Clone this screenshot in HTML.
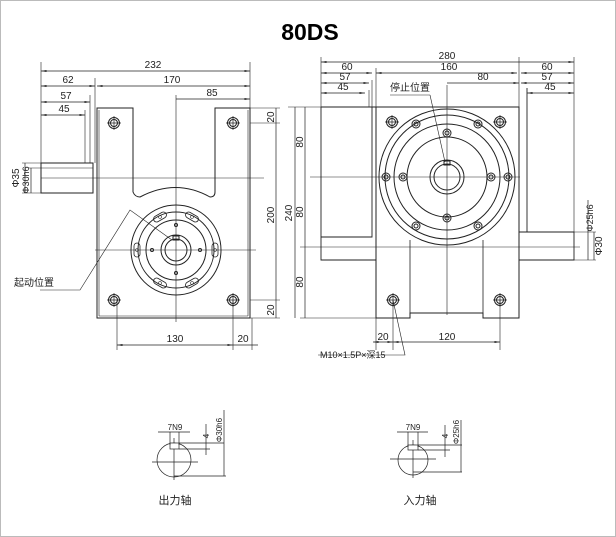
<!DOCTYPE html>
<html><head><meta charset="utf-8"><style>
body{margin:0;background:#fff}
svg{display:block}
text{font-family:"Liberation Sans","Noto Sans CJK SC",sans-serif;font-size:10px;fill:#222}
</style></head><body>
<svg width="616" height="537" viewBox="0 0 616 537" xmlns="http://www.w3.org/2000/svg">
<rect x="0.5" y="0.5" width="615" height="536" fill="#fff" stroke="#bbb"/>
<text x="310" y="40" text-anchor="middle" style="font-size:23px;font-weight:bold;fill:#000">80DS</text>
<defs>
<marker id="a" viewBox="0 0 8 6" refX="8" refY="3" markerWidth="8" markerHeight="6" orient="auto-start-reverse"><path d="M0 1.5L8 3L0 4.5z" fill="#222"/></marker>
<g id="hole"><circle r="5.5" fill="none" stroke="#222"/><circle r="3.5" fill="none" stroke="#222"/><path d="M-7 0H7M0 -7V7" stroke="#222" stroke-width="0.7"/></g>
<g id="sh"><circle r="4" fill="none" stroke="#222"/><circle r="2" fill="none" stroke="#222"/></g>
<g id="slot"><rect x="-7" y="-3" width="14" height="6" rx="3" fill="none" stroke="#222" stroke-width="0.8"/><circle r="1.5" fill="none" stroke="#222" stroke-width="0.6"/></g>
</defs>
<g fill="none" stroke="#222" stroke-width="1">
<!-- LEFT VIEW -->
<path d="M97 318V108H133V112V192Q135 197 140 197Q176 178 210 197Q215 197 215 192V112V108H250V318Z"/>
<path d="M99 316V110M248 110V316M99 316H248" stroke-width="0.6"/>
<rect x="41" y="163" width="52" height="30"/>
<path d="M41 168H93" stroke-width="0.6"/>
<circle cx="176" cy="250" r="45"/><circle cx="176" cy="250" r="38"/><circle cx="176" cy="250" r="30"/>
<circle cx="176" cy="250" r="15"/><circle cx="176" cy="250" r="11"/>
<rect x="173" y="236" width="6" height="4"/>
<use href="#slot" transform="translate(160,217) rotate(-30)"/>
<use href="#slot" transform="translate(192,217) rotate(30)"/>
<use href="#slot" transform="translate(160,283) rotate(30)"/>
<use href="#slot" transform="translate(192,283) rotate(-30)"/>
<use href="#slot" transform="translate(137,250) rotate(90)"/>
<use href="#slot" transform="translate(215,250) rotate(90)"/>
<use href="#hole" x="114" y="123"/><use href="#hole" x="233" y="123"/><use href="#hole" x="114" y="300"/><use href="#hole" x="233" y="300"/>
<circle cx="176" cy="225" r="1.5"/><circle cx="176" cy="273" r="1.5"/><circle cx="152" cy="250" r="1.5"/><circle cx="200" cy="250" r="1.5"/>
<g stroke-width="0.6">
<path d="M176 95V322M95 250H256M41 178H264"/>
<path d="M41 62V193M95 78V163M90 95V163M85 110V163M250 62V108M252 318V350M117 300V350M233 300V350"/>
<path d="M250 108H280M250 123H280M250 300H280M250 318H280"/>
<path d="M22 163H41M28 168H41M22 193H41"/>
<path d="M172 240L130 210L80 290H40"/>
</g>
<g stroke-width="0.7">
<path d="M41 71H250" marker-start="url(#a)" marker-end="url(#a)"/>
<path d="M41 86H95" marker-start="url(#a)" marker-end="url(#a)"/>
<path d="M97 86H250" marker-start="url(#a)" marker-end="url(#a)"/>
<path d="M41 102H90" marker-start="url(#a)" marker-end="url(#a)"/>
<path d="M176 99H250" marker-end="url(#a)"/>
<path d="M41 115H85" marker-start="url(#a)" marker-end="url(#a)"/>
<path d="M276 108V318"/>
<path d="M117 345H233" marker-start="url(#a)" marker-end="url(#a)"/>
<path d="M233 345H258"/>
<path d="M25 163V193M31 168V193"/>
</g>
<!-- RIGHT VIEW -->
<path d="M376 107H519V318H483V313H410V318H376Z"/>
<path d="M410 240V313M483 240V313" stroke-width="0.8"/>
<path d="M321 107H376M321 107V260H376M321 237H372V107" stroke-width="0.9"/>
<path d="M519 232H574V260H519M527 88V232" stroke-width="0.9"/>
<circle cx="447" cy="177" r="68"/><circle cx="447" cy="177" r="62"/><circle cx="447" cy="177" r="53"/>
<circle cx="447" cy="177" r="40"/><circle cx="447" cy="177" r="17"/><circle cx="447" cy="177" r="13"/>
<rect x="444" y="161" width="6" height="4"/>
<use href="#hole" x="392" y="122"/><use href="#hole" x="500" y="122"/><use href="#hole" x="393" y="300"/><use href="#hole" x="500" y="300"/>
<use href="#sh" x="386" y="177"/><use href="#sh" x="508" y="177"/><use href="#sh" x="416" y="124"/><use href="#sh" x="478" y="124"/><use href="#sh" x="416" y="226"/><use href="#sh" x="478" y="226"/>
<use href="#sh" x="447" y="133"/><use href="#sh" x="447" y="218"/><use href="#sh" x="403" y="177"/><use href="#sh" x="491" y="177"/>
<g stroke-width="0.6">
<path d="M447 85V315M310 177H520M300 247H580"/>
<path d="M321 57V107M376 68V107M519 57V107M574 57V232M372 80V107M369 90V107"/>
<path d="M288 107H321M300 318H376M393 300V350M500 300V350M376 318V350"/>
<path d="M574 232H596M574 260H596"/>
<path d="M430 95L445 162M390 95H430"/>
<path d="M393 300L405 355H318"/>
</g>
<g stroke-width="0.7">
<path d="M321 62H574" marker-start="url(#a)" marker-end="url(#a)"/>
<path d="M321 73H372" marker-start="url(#a)" marker-end="url(#a)"/>
<path d="M376 73H517" marker-start="url(#a)" marker-end="url(#a)"/>
<path d="M521 73H574" marker-start="url(#a)" marker-end="url(#a)"/>
<path d="M321 83H369" marker-start="url(#a)" marker-end="url(#a)"/>
<path d="M521 83H574" marker-start="url(#a)" marker-end="url(#a)"/>
<path d="M321 93H365" marker-start="url(#a)" marker-end="url(#a)"/>
<path d="M527 93H574" marker-start="url(#a)" marker-end="url(#a)"/>
<path d="M447 83H519" marker-end="url(#a)"/>
<path d="M295 107V318"/>
<path d="M305 107V318"/>
<path d="M373 342H393" marker-start="url(#a)" marker-end="url(#a)"/>
<path d="M393 342H500" marker-start="url(#a)" marker-end="url(#a)"/>
<path d="M588 200V260M594 232V260"/>
</g>
<!-- small sections -->
<g stroke-width="0.7">
<circle cx="174" cy="460" r="17"/>
<path d="M152 462H198M174 438V480"/>
<rect x="170" y="443" width="9" height="6" fill="#fff"/>
<path d="M170 445V432M179 445V432M158 432H190M179 443H224M179 449H210M174 476H226M206 424V455M224 410V476"/>
<circle cx="413" cy="460" r="15"/>
<path d="M390 459H436M413 440V478"/>
<rect x="408" y="445" width="10" height="5" fill="#fff"/>
<path d="M408 447V432M418 447V432M397 432H428M418 445H462M418 450H450M413 472H462M445 425V457M461 420V472"/>
</g>
</g>
<g>
<text x="153" y="68" text-anchor="middle">232</text>
<text x="68" y="83" text-anchor="middle">62</text>
<text x="172" y="83" text-anchor="middle">170</text>
<text x="66" y="99" text-anchor="middle">57</text>
<text x="212" y="96" text-anchor="middle">85</text>
<text x="64" y="112" text-anchor="middle">45</text>
<text transform="translate(274,117) rotate(-90)" text-anchor="middle">20</text>
<text transform="translate(274,215) rotate(-90)" text-anchor="middle">200</text>
<text transform="translate(274,310) rotate(-90)" text-anchor="middle">20</text>
<text transform="translate(19,178) rotate(-90)" text-anchor="middle">Φ35</text>
<text transform="translate(29,180) rotate(-90)" text-anchor="middle" style="font-size:9px">Φ30h6</text>
<text x="175" y="342" text-anchor="middle">130</text>
<text x="243" y="342" text-anchor="middle">20</text>
<text x="14" y="286">起动位置</text>
<text x="447" y="59" text-anchor="middle">280</text>
<text x="347" y="70" text-anchor="middle">60</text>
<text x="449" y="70" text-anchor="middle">160</text>
<text x="547" y="70" text-anchor="middle">60</text>
<text x="345" y="80" text-anchor="middle">57</text>
<text x="547" y="80" text-anchor="middle">57</text>
<text x="343" y="90" text-anchor="middle">45</text>
<text x="550" y="90" text-anchor="middle">45</text>
<text x="483" y="80" text-anchor="middle">80</text>
<text x="390" y="91">停止位置</text>
<text transform="translate(292,213) rotate(-90)" text-anchor="middle">240</text>
<text transform="translate(303,142) rotate(-90)" text-anchor="middle">80</text>
<text transform="translate(303,212) rotate(-90)" text-anchor="middle">80</text>
<text transform="translate(303,282) rotate(-90)" text-anchor="middle">80</text>
<text transform="translate(593,218) rotate(-90)" text-anchor="middle" style="font-size:9px">Φ25h6</text>
<text transform="translate(602,246) rotate(-90)" text-anchor="middle">Φ30</text>
<text x="383" y="340" text-anchor="middle">20</text>
<text x="447" y="340" text-anchor="middle">120</text>
<text x="320" y="358" style="font-size:9px">M10×1.5P×深15</text>
<text x="175" y="430" text-anchor="middle" style="font-size:8px">7N9</text>
<text transform="translate(209,436) rotate(-90)" text-anchor="middle" style="font-size:8px">4</text>
<text transform="translate(222,430) rotate(-90)" text-anchor="middle" style="font-size:8px">Φ30h6</text>
<text x="413" y="430" text-anchor="middle" style="font-size:8px">7N9</text>
<text transform="translate(448,436) rotate(-90)" text-anchor="middle" style="font-size:8px">4</text>
<text transform="translate(459,432) rotate(-90)" text-anchor="middle" style="font-size:8px">Φ25h6</text>
<text x="175" y="504" text-anchor="middle" style="font-size:11px">出力轴</text>
<text x="420" y="504" text-anchor="middle" style="font-size:11px">入力轴</text>
</g>
</svg>
</body></html>
